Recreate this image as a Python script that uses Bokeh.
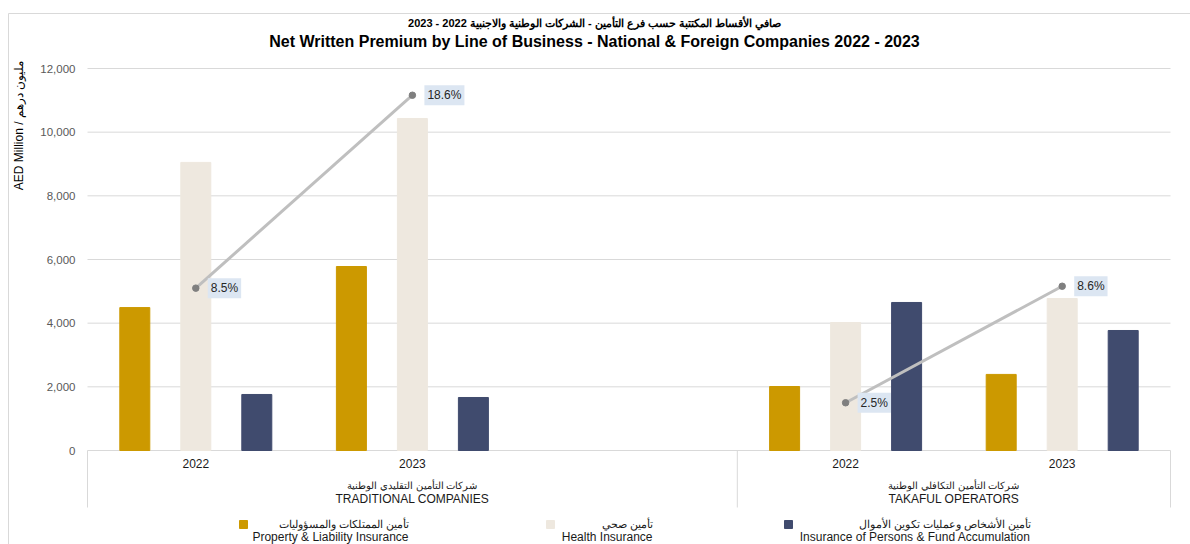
import math
from bokeh.plotting import figure
from bokeh.models import Range1d, ColumnDataSource
from bokeh.embed import file_html
from bokeh.resources import INLINE
from bokeh.core.properties import value

# ---------------- data ----------------
title_ar = "صافي الأقساط المكتتبة حسب فرع التأمين - الشركات الوطنية والاجنبية 2022 - 2023"
title_en = "Net Written Premium by Line of Business - National & Foreign Companies 2022 - 2023"
y_title = "AED Million / مليون درهم"
groups_en = ["TRADITIONAL COMPANIES", "TAKAFUL OPERATORS"]
groups_ar = ["شركات التأمين التقليدي الوطنية", "شركات التأمين التكافلي الوطنية"]
slots_per_group = [3, 2]          # traditional group has one empty slot
years = ["2022", "2023"]
series_en = ["Property & Liability Insurance", "Health Insurance",
             "Insurance of Persons & Fund Accumulation"]
series_ar = ["تأمين الممتلكات والمسؤوليات", "تأمين صحي", "تأمين الأشخاص وعمليات تكوين الأموال"]
# order: Traditional 2022, Traditional 2023, Takaful 2022, Takaful 2023
property_liability = [4490, 5780, 2010, 2390]
health = [9050, 10430, 4020, 4775]
persons_fund = [1760, 1665, 4650, 3770]
growth_pct = [8.5, 18.6, 2.5, 8.6]
y_ticks = [0, 2000, 4000, 6000, 8000, 10000, 12000]

colors = ["#cc9900", "#eee8df", "#404b6e"]
series_values = [property_liability, health, persons_fund]

# ---------------- geometry (canvas pixels -> data) ----------------
W, H = 1190, 544
FRAME_L, FRAME_R = 87, 1170          # plotting area edges (px)
ZERO_PY, TOP_PY = 450, 68            # pixel rows of 0 and 12000
n_slots = sum(slots_per_group)
PXX = (FRAME_R - FRAME_L) / n_slots
SY = (ZERO_PY - TOP_PY) / max(y_ticks)
PCT_SCALE = max(y_ticks) / 20.0      # secondary axis: 0-20 %

def X(px):
    return (px - FRAME_L) / PXX

def Y(py):
    return (ZERO_PY - py) / SY

centers, group_bounds = [], [0]
start = 0
for gi, n in enumerate(slots_per_group):
    for yi in range(len(years)):
        centers.append(start + yi + 0.5)
    start += n
    group_bounds.append(start)

p = figure(width=W, height=H, output_backend="svg", toolbar_location=None,
           x_range=Range1d(X(0), X(W)), y_range=Range1d(Y(H), Y(0)),
           min_border_left=0, min_border_right=0, min_border_top=0, min_border_bottom=0,
           title=None)
p.extra_y_ranges = {"pct": Range1d(Y(H) / PCT_SCALE, Y(0) / PCT_SCALE)}
p.outline_line_color = None
p.axis.visible = False
p.grid.visible = False

GRID = "#d9d9d9"
FONT = value("Liberation Sans")

# chart border (top / left)
p.segment(x0=[X(8), X(8)], y0=[Y(13), Y(13)], x1=[X(W), X(8)], y1=[Y(13), Y(H)],
          line_color=GRID, line_width=1)

# gridlines + y tick labels
p.segment(x0=[0] * len(y_ticks), y0=y_ticks, x1=[n_slots] * len(y_ticks), y1=y_ticks,
          line_color=GRID, line_width=1)
p.text(x=[X(75)] * len(y_ticks), y=y_ticks, text=[f"{t:,}" for t in y_ticks],
       text_align="right", text_baseline="middle", text_font=FONT,
       text_font_size="11.5px", text_color="#595959")
p.text(x=[X(18)], y=[Y(125)], text=[y_title], angle=math.pi / 2, text_align="center",
       text_baseline="middle", text_font=FONT, text_font_size="12px", text_color="#000000")

# bars
bw = 30 / PXX
offs = [-61 / PXX, 0, 61 / PXX]
for s, vals in enumerate(series_values):
    src = ColumnDataSource(dict(x=[c + offs[s] for c in centers], top=vals))
    p.vbar(x="x", top="top", bottom=0, width=bw, source=src,
           fill_color=colors[s], line_color=colors[s])

# growth lines (per group)
for gi in range(len(slots_per_group)):
    xs = centers[gi * 2: gi * 2 + 2]
    ys = growth_pct[gi * 2: gi * 2 + 2]
    p.line(xs, ys, y_range_name="pct", line_color="#bfbfbf", line_width=3)
gsrc = ColumnDataSource(dict(x=centers, y=growth_pct, t=[f"{g:.1f}%" for g in growth_pct]))
p.scatter("x", "y", source=gsrc, y_range_name="pct", size=6.5, color="#7f7f7f")
p.text("x", "y", text="t", source=gsrc, y_range_name="pct", x_offset=12,
       text_align="left", text_baseline="middle", text_font=FONT,
       text_font_size="12px", text_color="#262626",
       background_fill_color="#dce6f2", padding=3)

# category box
box_bottom = Y(507)
p.segment(x0=group_bounds, y0=[0] * len(group_bounds), x1=group_bounds,
          y1=[box_bottom] * len(group_bounds), line_color=GRID, line_width=1)
p.text(x=centers, y=[Y(463)] * len(centers), text=years * len(slots_per_group),
       text_align="center", text_baseline="middle", text_font=FONT,
       text_font_size="12px", text_color="#1a1a1a")
gmid = [(group_bounds[i] + group_bounds[i + 1]) / 2 for i in range(len(slots_per_group))]
p.text(x=gmid, y=[Y(485)] * 2, text=groups_ar, text_align="center", text_baseline="middle",
       text_font=FONT, text_font_size="9.5px", text_color="#1a1a1a")
p.text(x=gmid, y=[Y(498)] * 2, text=groups_en, text_align="center", text_baseline="middle",
       text_font=FONT, text_font_size="12px", text_color="#1a1a1a")

# title
tmid = X(594)
p.text(x=[tmid], y=[Y(22)], text=[title_ar], text_align="center", text_baseline="middle",
       text_font=FONT, text_font_style="bold", text_font_size="11px",
       text_color="#000000")
p.text(x=[tmid], y=[Y(41)], text=[title_en], text_align="center", text_baseline="middle",
       text_font=FONT, text_font_style="bold", text_font_size="16px",
       text_color="#000000")

# legend
mk_x = [X(243), X(550), X(788)]
txt_r = [X(408), X(652), X(1030)]
p.scatter(x=mk_x, y=[Y(524)] * 3, marker="square", size=8, color=colors)
p.text(x=txt_r, y=[Y(523)] * 3, text=series_ar, text_align="right", text_baseline="middle",
       text_font=FONT, text_font_size="10.5px", text_color="#1a1a1a")
p.text(x=txt_r, y=[Y(536.5)] * 3, text=series_en, text_align="right", text_baseline="middle",
       text_font=FONT, text_font_size="12px", text_color="#1a1a1a")

open("out.html", "w").write(file_html(p, INLINE))
